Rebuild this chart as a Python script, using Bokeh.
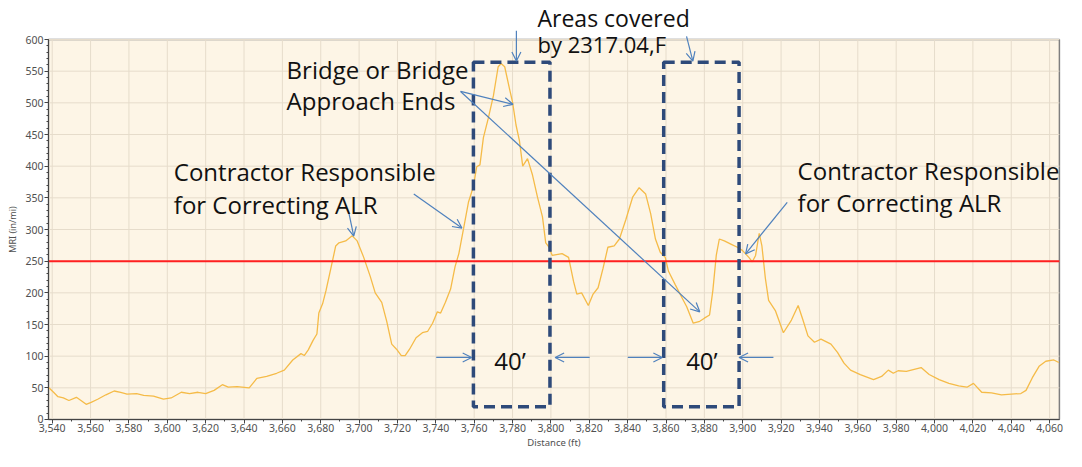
from bokeh.plotting import figure
from bokeh.models import (BoxAnnotation, Arrow, OpenHead, Label, NumeralTickFormatter,
                          SingleIntervalTicker, Range1d)
from bokeh.embed import file_html
from bokeh.resources import INLINE

# ---- data ----
distance_ft = [3538.0, 3540.7, 3543.0, 3545.8, 3548.7, 3552.6, 3555.0, 3557.7, 3560.3, 3563.7,
               3568.0, 3572.3, 3575.7, 3579.0, 3584.0, 3587.7, 3592.8, 3598.0, 3602.0, 3607.3,
               3611.6, 3616.0, 3620.0, 3624.4, 3628.7, 3631.8, 3636.4, 3642.7, 3646.7, 3651.8,
               3657.0, 3661.0, 3665.4, 3669.7, 3671.4, 3673.5, 3676.0, 3678.0, 3679.0, 3681.0,
               3682.7, 3685.3, 3687.8, 3689.5, 3693.0, 3696.4, 3699.0, 3702.4, 3705.8, 3708.4,
               3711.8, 3714.4, 3717.0, 3719.5, 3722.0, 3724.0, 3726.3, 3729.7, 3733.0, 3735.7,
               3738.3, 3740.8, 3742.5, 3745.0, 3747.7, 3750.0, 3752.0, 3754.5, 3757.0, 3759.6,
               3761.3, 3763.0, 3764.8, 3767.3, 3770.0, 3772.5, 3774.0, 3775.9, 3778.5, 3780.0,
               3781.8, 3783.6, 3785.3, 3787.8, 3790.4, 3793.0, 3795.6, 3797.3, 3799.0, 3800.7,
               3805.8, 3809.2, 3811.8, 3813.5, 3816.0, 3819.5, 3822.0, 3824.6, 3827.2, 3829.7,
               3833.0, 3835.7, 3839.0, 3842.6, 3846.0, 3849.4, 3852.0, 3854.5, 3857.0, 3859.6,
               3861.3, 3864.8, 3868.2, 3870.8, 3874.2, 3877.6, 3880.0, 3882.7, 3884.4, 3886.2,
               3887.8, 3890.4, 3893.8, 3897.2, 3899.8, 3903.2, 3905.0, 3906.7, 3908.6, 3910.0,
               3911.8, 3913.5, 3917.0, 3921.2, 3925.4, 3928.9, 3931.4, 3934.0, 3937.4, 3940.8,
               3946.0, 3949.4, 3952.8, 3956.2, 3961.3, 3968.2, 3972.4, 3975.9, 3978.5, 3981.0,
               3985.3, 3993.0, 3997.2, 4002.4, 4007.5, 4012.6, 4016.9, 4020.3, 4024.6, 4029.7,
               4034.9, 4040.0, 4045.0, 4047.7, 4051.0, 4054.5, 4058.0, 4062.2, 4064.8]
mri_in_mi = [51, 43, 36, 34, 30, 35, 30, 24, 27, 32,
             39, 45, 43, 40, 41, 38, 37, 32, 34, 43,
             41, 43, 41, 46, 55, 51, 52, 50, 65, 68,
             73, 78, 94, 104, 101, 110, 125, 135, 168, 183,
             203, 239, 274, 279, 282, 290, 282, 256, 226, 200,
             185, 155, 119, 111, 101, 101, 111, 129, 137, 139,
             152, 170, 168, 185, 206, 241, 262, 302, 343, 368,
             399, 402, 445, 475, 511, 557, 562, 557, 521, 501,
             465, 440, 400, 412, 386, 351, 320, 279, 272, 259,
             262, 256, 218, 198, 200, 180, 198, 208, 239, 272,
             274, 285, 315, 351, 366, 356, 325, 285, 264, 256,
             234, 213, 193, 178, 152, 155, 160, 165, 203, 259,
             285, 282, 277, 272, 267, 256, 249, 259, 294, 274,
             223, 188, 172, 137, 157, 180, 157, 132, 122, 127,
             119, 106, 89, 78, 71, 63, 68, 78, 73, 77,
             76, 82, 71, 63, 57, 53, 51, 57, 43, 42,
             39, 40, 41, 46, 66, 84, 92, 94, 90]
threshold_mri = 250
x_ticks = list(range(3540, 4061, 20))
y_ticks = list(range(0, 601, 50))

# plot-area / annotation geometry (data units)
area_x = (3538.07, 4065.1)
area_y = (0, 600)
view_x = (3513.04, 4068.8)
view_y = (-50.53, 661.6)
box_left = [3759.6, 3858.8]
box_right = [3799.5, 3898.1]
box_bottom = 20
box_top = 564
arrows = [  # x0, y0, x1, y1
    (3782.0, 614, 3782.0, 566),
    (3870.7, 605, 3874.0, 566),
    (3752.9, 518, 3780.2, 497.7),
    (3752.9, 518, 3877.6, 170),
    (3694.6, 327, 3697.2, 289.6),
    (3728.5, 356, 3753.6, 302.3),
    (3923.2, 343, 3901.5, 261.5),
    (3740.2, 98, 3758.7, 98),
    (3820.2, 98, 3802.2, 98),
    (3840.1, 98, 3858.1, 98),
    (3916.0, 98, 3898.1, 98),
]
texts = [  # x, y(baseline), text, size
    (3793.0, 634.7, "Areas covered", "23px"),
    (3793.0, 593.7, "by 2317.04,F", "22px"),
    (3662.2, 553.1, "Bridge or Bridge", "24px"),
    (3662.2, 503.2, "Approach Ends", "24px"),
    (3603.4, 391.5, "Contractor Responsible", "24px"),
    (3603.4, 339.9, "for Correcting ALR", "24px"),
    (3928.6, 392.7, "Contractor Responsible", "24px"),
    (3928.6, 342.6, "for Correcting ALR", "24px"),
    (3770.5, 92.7, "40\u2019", "24px"),
    (3870.5, 92.7, "40\u2019", "24px"),
]

p = figure(width=1066, height=451, x_range=Range1d(*view_x), y_range=Range1d(*view_y),
           output_backend="svg", toolbar_location=None, title=None,
           min_border_left=0, min_border_top=0, min_border_bottom=0, min_border_right=0)
p.background_fill_color = "white"
p.border_fill_color = "white"
p.outline_line_color = None
p.xgrid.visible = False
p.ygrid.visible = False

# plot area (cream) with grey frame
p.add_layout(BoxAnnotation(left=area_x[0], right=area_x[1], bottom=area_y[0], top=area_y[1],
                           fill_color="#FDF5E6", fill_alpha=1, line_color="#7F7F7F",
                           line_alpha=1, line_width=1.5, level="underlay"))
# grid lines
p.segment(x0=x_ticks, y0=area_y[0], x1=x_ticks, y1=area_y[1], line_color="#E6DCCB", line_width=1)
p.segment(x0=area_x[0], y0=y_ticks[1:], x1=area_x[1], y1=y_ticks[1:], line_color="#E6DCCB", line_width=1)

p.xaxis.ticker = SingleIntervalTicker(interval=20, num_minor_ticks=2)
p.yaxis.ticker = SingleIntervalTicker(interval=50, num_minor_ticks=5)
p.xaxis.formatter = NumeralTickFormatter(format="0,0")
p.xaxis.fixed_location = 0
p.yaxis.fixed_location = area_x[0]
p.xaxis.bounds = area_x
p.yaxis.bounds = area_y
for ax in (p.xaxis, p.yaxis):
    ax.axis_line_color = "#444444"
    ax.major_tick_line_color = "#444444"
    ax.minor_tick_line_color = "#444444"
    ax.major_tick_in = 0
    ax.major_tick_out = 4
    ax.minor_tick_in = 0
    ax.minor_tick_out = 2
    ax.major_label_text_font = "Noto Sans"
    ax.major_label_text_font_size = "10.5px"
    ax.major_label_text_color = "#505050"
    ax.major_label_standoff = 1
    ax.axis_label_text_font = "Noto Sans"
    ax.axis_label_text_font_style = "normal"
    ax.axis_label_text_color = "#505050"
p.xaxis.axis_label = "Distance (ft)"
p.xaxis.axis_label_text_font_size = "9.5px"
p.xaxis.axis_label_standoff = 0
p.yaxis.axis_label = "MRI (in/mi)"
p.yaxis.axis_label_text_font_size = "9px"
p.yaxis.axis_label_standoff = 3

p.line(distance_ft, mri_in_mi, line_color="#F5BB48", line_width=1.3)

# threshold line across the plot area
p.segment(x0=area_x[0], y0=threshold_mri, x1=area_x[1], y1=threshold_mri,
          line_color="#FF2020", line_width=2)

for l, r in zip(box_left, box_right):
    p.add_layout(BoxAnnotation(left=l, right=r, bottom=box_bottom, top=box_top,
                               fill_alpha=0, line_color="#2E4A7A", line_alpha=1, line_width=3.5,
                               line_dash="11 6"))

for x0, y0, x1, y1 in arrows:
    p.add_layout(Arrow(x_start=x0, y_start=y0, x_end=x1, y_end=y1,
                       line_color="#4F81BD", line_width=1.2,
                       end=OpenHead(size=9, line_color="#4F81BD", line_width=1.2)))

for x, y, t, fs in texts:
    p.add_layout(Label(x=x, y=y, text=t, text_font="Open Sans", text_font_size=fs,
                       text_color="#111111", text_baseline="alphabetic"))

open("out.html", "w").write(file_html(p, INLINE))
